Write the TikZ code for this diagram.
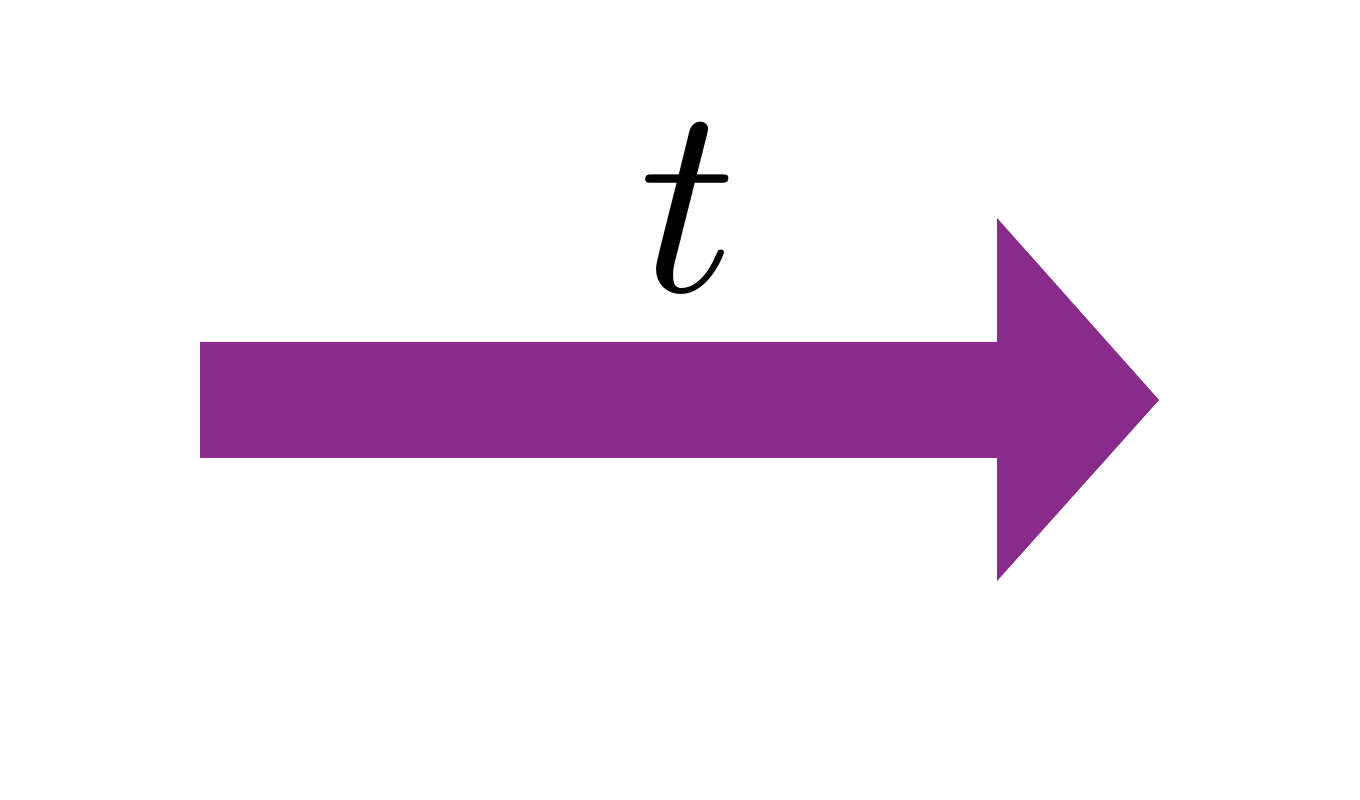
\documentclass[tikz,border=0pt]{standalone}
\usetikzlibrary{positioning}
\definecolor{arrowpurple}{RGB}{137,43,138}

\begin{document}
\begin{tikzpicture}[
    arrowbody/.style={fill=arrowpurple,draw=none},
    timelabel/.style={inner sep=0pt,scale=7.7}
    ]
  \useasboundingbox (0,0) rectangle (13.6,8);

  \coordinate(tail) at (2.00,4.00);
  \coordinate(tip) at (11.59,4.00);

  \fill[arrowbody] (2.00,4.58) -- (9.97,4.58) -- (9.97,5.82) -- (tip)
    -- (9.97,2.19) -- (9.97,3.42) -- (2.00,3.42) -- cycle;

  \node(time) [timelabel] at (6.88,5.92) {$t$};

\end{tikzpicture}
\end{document}
